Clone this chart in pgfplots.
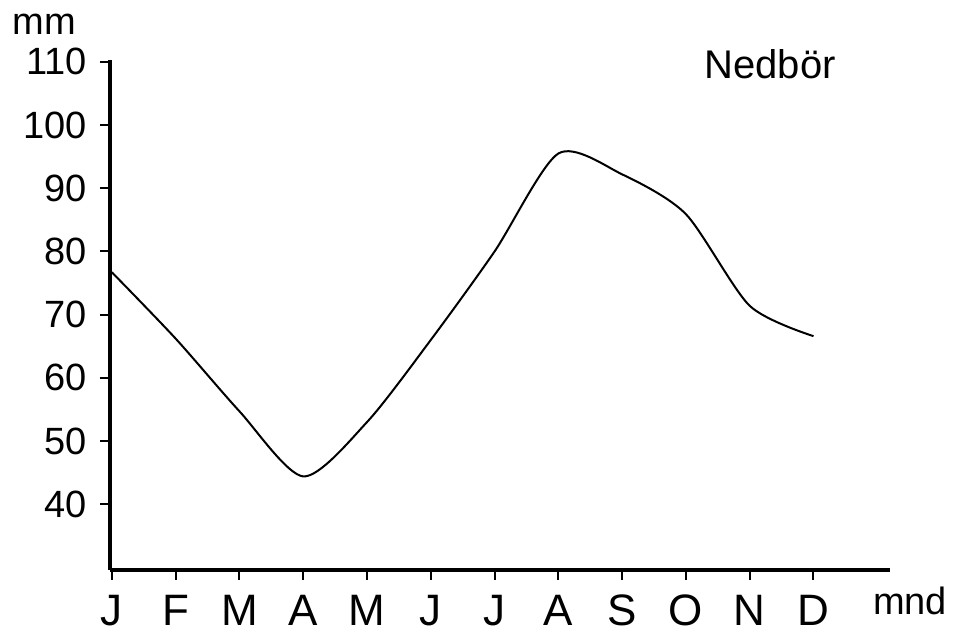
\documentclass[border=0pt]{standalone}
\usepackage{fontspec}
\setmainfont{Liberation Sans}
\usepackage{pgfplots}
\pgfplotsset{compat=1.18}

\begin{document}
\begin{tikzpicture}
\begin{axis}[
  at={(55pt,35pt)}, anchor=south west,
  scale only axis,
  width=390pt, height=255pt,
  xmin=0.97, xmax=13.2,
  ymin=29.59, ymax=110.3,
  axis lines=left,
  axis line style={-, line width=1.8pt},
  xtick={1,...,12},
  xticklabels={J,F,M,A,M,J,J,A,S,O,N,D},
  ytick={40,50,...,110},
  /pgf/number format/assume math mode=true,
  tick style={black, line width=1pt},
  major tick length=5pt,
  tick align=outside,
  xticklabel style={font=\fontsize{22}{24}\selectfont, yshift=-4pt},
  yticklabel style={font=\fontsize{19}{21}\selectfont, xshift=-3pt},
]
\addplot[black, line width=1pt, smooth, tension=0.45] coordinates {
  (1,76.7) (2,66.2) (3,54.7) (4,44.4) (5,53.0) (6,66.0)
  (7,80.0) (8,95.5) (9,92.2) (10,85.9) (11,71.4) (12,66.6)
};
\end{axis}
\node[font=\fontsize{19}{21}\selectfont] at (22pt,308pt) {mm};
\node[font=\fontsize{20}{22}\selectfont] at (385pt,288pt) {Nedbör};
\node[font=\fontsize{19}{21}\selectfont] at (455pt,19.5pt) {mnd};
\pgfresetboundingbox
\path[use as bounding box] (0,0) rectangle (478.5pt,320pt);
\end{tikzpicture}
\end{document}
